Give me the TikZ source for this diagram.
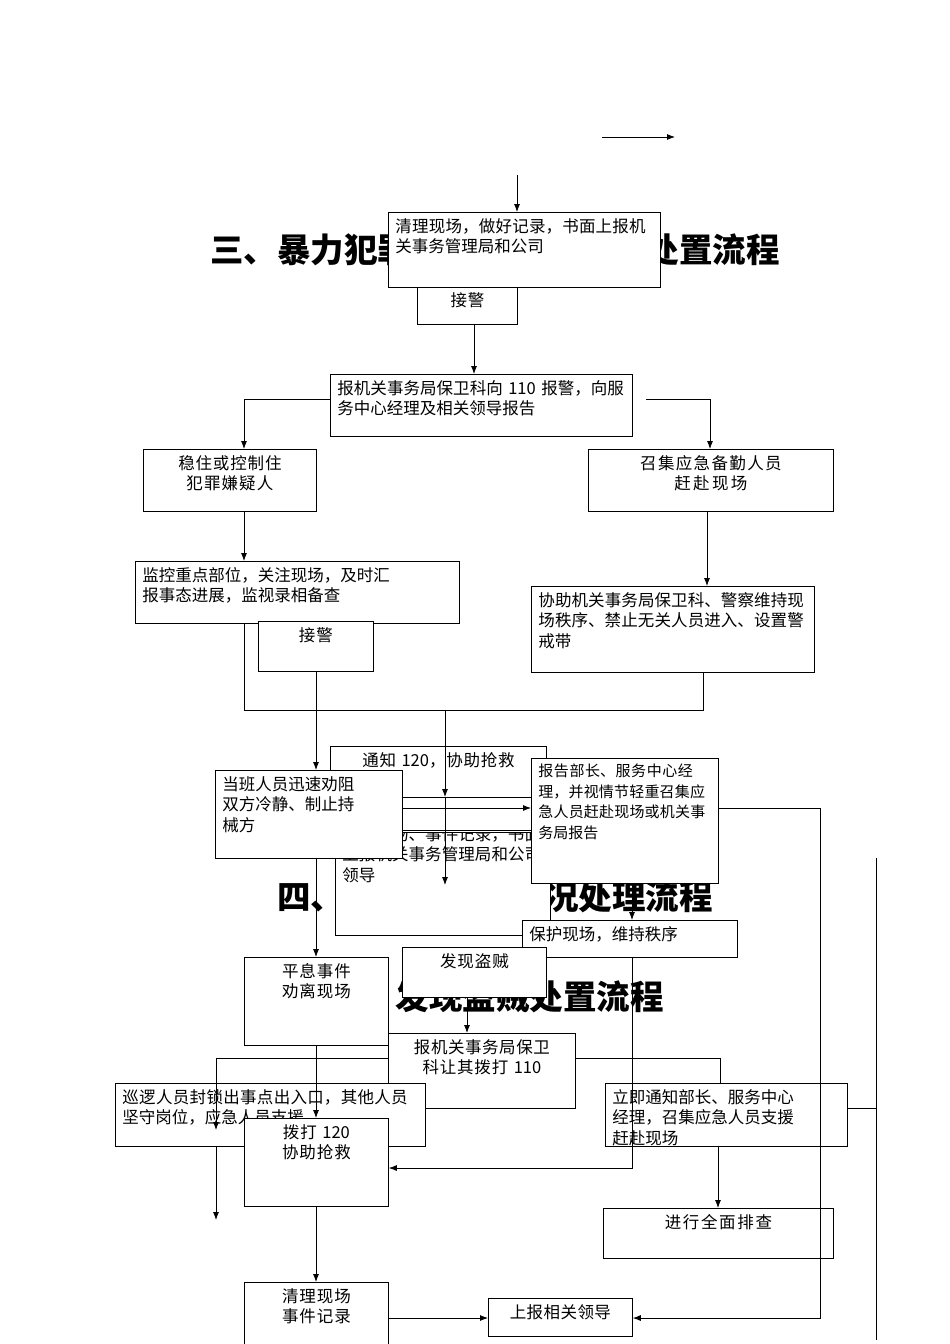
\documentclass[tikz,border=0pt]{standalone}
\usepackage{fontspec}
\setmainfont{Noto Sans CJK SC}
\XeTeXlinebreaklocale "zh"
\XeTeXlinebreakskip=0pt plus 1pt
\usetikzlibrary{arrows.meta}
\newcommand\fs{\fontsize{16.5}{20.5}\selectfont}
\newcommand\tfs{\fontsize{33.5}{38}\selectfont\bfseries}
\newcommand\bx[7]{%
  \pgfmathsetmacro\bw{#4-#2}\pgfmathsetmacro\bh{#5-#3}\pgfmathsetmacro\tw{#4-#2-14}%
  \node[box,anchor=north west,minimum width=\bw pt,minimum height=\bh pt] (#1) at (#2,-#3) {};
  \node[anchor=north,text width=\tw pt,align=#6,font=\fs,inner sep=0pt] (#1t) at ([yshift=-6pt]#1.north) {#7};}
\begin{document}
\begin{tikzpicture}[x=1pt,y=1pt,
  box/.style={draw,fill=white,line width=0.8pt,inner sep=0pt},
  ln/.style={line width=0.8pt},
  ar/.style={line width=0.8pt,-{Latex[length=8pt,width=6pt]}},
  ttl/.style={font=\tfs,anchor=center,inner sep=0pt}]
\useasboundingbox (0,0) rectangle (950,-1344);
\coordinate (t1) at (602,-137); \coordinate (t2) at (675,-137);
\draw[ar] (t1) -- (t2);
% titles
\node[ttl] (T3) at (495,-250) {三、暴力犯罪事件及突发情况处置流程};
\node[ttl] (T4) at (495,-897) {四、打架斗殴等情况处理流程};
\node[ttl] (T5) at (496,-997) {五、发现盗贼处置流程};
\bx{jj1}{417}{270}{517}{324}{center}{\rule{0pt}{10pt}\\接警}
\bx{top}{388}{212}{660}{287}{left}{清理现场，做好记录，书面上报机关事务管理局和公司}
\coordinate (a0) at (517,-175); \draw[ar] (a0) -- (top.north -| a0);
\draw[ar] (474,-324) -- (474,-374);
\bx{bj}{330}{374}{632}{436}{left}{报机关事务局保卫科向 110 报警，向服务中心经理及相关领导报告}
\bx{wz}{143}{449}{316}{511}{center}{稳住或控制住\\犯罪嫌疑人}
\bx{zj}{588}{449}{833}{511}{center}{召集应急备勤人员\\赶赴现场}
\draw[ar] (bj.west |- 0,-399) -- (244,-399) -- (244,-449);
\draw[ar] (646,-399) -- (710,-399) -- (710,-449);
\draw[ar] (244,-511) -- (244,-561);
\draw[ar] (707,-511) -- (707,-586);
\bx{jk}{135}{561}{459}{623}{left}{监控重点部位，关注现场，及时汇\\报事态进展，监视录相备查}
\bx{xz}{531}{586}{814}{672}{left}{协助机关事务局保卫科、警察维持现场秩序、禁止无关人员进入、设置警戒带}
\draw[ln] (244,-623) -- (244,-710) -- (703,-710) -- (703,-672);
\bx{ql}{335}{820}{550}{935}{left}{清理现场、事件记录，书面上报机关事务管理局和公司领导}
\bx{tz}{330}{746}{546}{832}{center}{通知 120，协助抢救}
\draw[ar] (445,-710) -- (445,-797);
\draw[ar] (445,-797) -- (445,-885);
\bx{jj2}{258}{621}{373}{671}{center}{接警}
\draw[ar] (316,-671) -- (316,-770);
\bx{db}{215}{770}{402}{858}{left}{当班人员迅速劝阻\\双方冷静、制止持\\械方}
\bx{bg}{531}{758}{718}{883}{left}{\fontsize{15}{20}\selectfont 报告部长、服务中心经理，并视情节轻重召集应急人员赶赴现场或机关事务局报告}
\draw[ln] (402,-797) -- (531,-797);
\draw[ar] (402,-808) -- (531,-808);
\draw[ln] (402,-830) -- (531,-830);
\draw[ar] (632,-883) -- (632,-920);
\bx{bh}{522}{920}{737}{957}{left}{保护现场，维持秩序}
\draw[ar] (316,-858) -- (316,-957);
\bx{px}{244}{957}{388}{1045}{center}{平息事件\\劝离现场}
\bx{fx}{402}{947}{546}{997}{center}{发现盗贼}
\draw[ar] (467,-997) -- (467,-1033);
\bx{bb}{388}{1033}{575}{1108}{center}{报机关事务局保卫\\科让其拨打 110}
\draw[ln] (216,-1058) -- (388,-1058);
\draw[ln] (575,-1058) -- (720,-1058);
\draw[ar] (720,-1058) -- (720,-1130);
\bx{xl}{115}{1083}{425}{1146}{left}{巡逻人员封锁出事点出入口，其他人员坚守岗位，应急人员支援}
\bx{lj}{605}{1083}{847}{1146}{left}{立即通知部长、服务中心\\经理，召集应急人员支援\\赶赴现场}
\draw[ar] (216,-1058) -- (216,-1130);
\draw[ar] (216,-1146) -- (216,-1220);
\draw[ar] (316,-1045) -- (316,-1118);
\bx{bd}{244}{1118}{388}{1206}{center}{拨打 120\\协助抢救}
\draw[ar] (632,-957) -- (632,-1168) -- (bd.east |- 0,-1168);
\draw[ar] (718,-1146) -- (718,-1208);
\bx{qm}{603}{1208}{833}{1258}{center}{进行全面排查}
\draw[ar] (316,-1206) -- (316,-1282);
\bx{qc}{244}{1282}{388}{1344}{center}{清理现场\\事件记录}
\bx{sb}{488}{1298}{632}{1336}{center}{上报相关领导}
\draw[ar] (qc.east |- 0,-1318) -- (sb.west |- 0,-1318);
\draw[ar] (718,-808) -- (820,-808) -- (820,-1318) -- (sb.east |- 0,-1318);
\draw[ln] (876,-858) -- (876,-1340);
\draw[ln] (847,-1108) -- (876,-1108);
\end{tikzpicture}
\end{document}
